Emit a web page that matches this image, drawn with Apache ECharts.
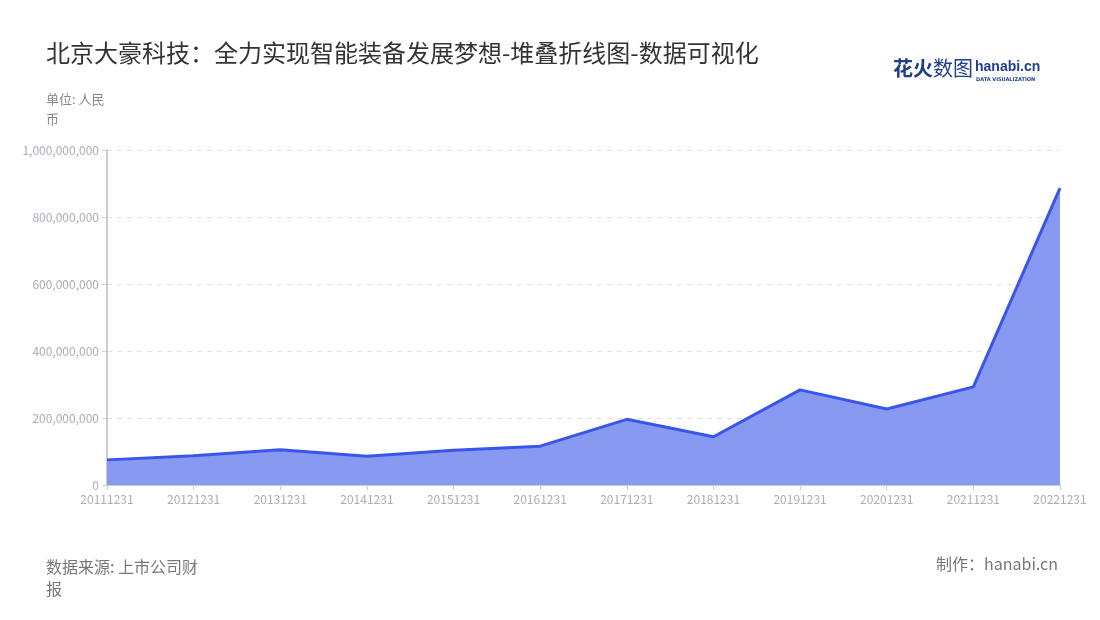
<!DOCTYPE html>
<html>
<head>
<meta charset="utf-8">
<script src="https://cdn.jsdelivr.net/npm/echarts@6/dist/echarts.min.js"></script>
<style>
  html, body {margin:0;padding:0;background:#fff;}
  #main {width:1100px;height:620px;}
</style>
</head>
<body>
<div id="main"></div>
<script>
  // 报告期
  var dates = ['20111231', '20121231', '20131231', '20141231', '20151231', '20161231',
               '20171231', '20181231', '20191231', '20201231', '20211231', '20221231'];
  // 数值（人民币）
  var values = [75000000, 87000000, 105000000, 86000000, 104000000, 116000000,
                196000000, 144000000, 284000000, 227000000, 293000000, 886000000];
  var yTicks = [0, 200000000, 400000000, 600000000, 800000000, 1000000000];

  var font = '"Noto Sans CJK SC", "Noto Sans", sans-serif';
  var chart = echarts.init(document.getElementById('main'));

  var option = {
    backgroundColor: '#fff',
    textStyle: {fontFamily: font},
    title: [{
      text: '北京大豪科技：全力实现智能装备发展梦想-堆叠折线图-数据可视化',
      left: 41, top: 36,
      textStyle: {fontSize: 24, fontWeight: 'normal', color: '#333', fontFamily: font}
    }, {
      text: '单位: 人民币',
      left: 41, top: 84,
      textStyle: {fontSize: 13, fontWeight: 'normal', color: '#888', width: 66, overflow: 'break', lineHeight: 20, fontFamily: font}
    }, {
      text: '数据来源: 上市公司财报',
      left: 41, top: 551,
      textStyle: {fontSize: 16, fontWeight: 'normal', color: '#777', width: 165, overflow: 'break', lineHeight: 22, fontFamily: font}
    }, {
      text: '制作：hanabi.cn',
      right: 37, top: 551,
      textStyle: {fontSize: 16, fontWeight: 'normal', color: '#777', fontFamily: font}
    }],
    graphic: [{
      type: 'group', left: 893, top: 58,
      children: [
        {type: 'text', x: 0, y: 0, style: {text: '花火', font: 'bold 20px ' + font, fill: '#1f3f8c'}},
        {type: 'text', x: 40, y: 0, style: {text: '数图', font: '20px ' + font, fill: '#1f3f8c'}},
        {type: 'text', x: 82, y: 2, style: {text: 'hanabi.cn', font: 'bold 14px "Liberation Sans Narrow", "Liberation Sans", sans-serif', fill: '#1f3f8c'}},
        {type: 'text', x: 83, y: 19, style: {text: 'DATA VISUALIZATION', font: 'bold 5px "DejaVu Sans", sans-serif', fill: '#1f3f8c'}}
      ]
    }],
    grid: {left: 107, right: 40, top: 150, bottom: 135},
    xAxis: {
      type: 'category',
      data: dates,
      boundaryGap: false,
      axisLine: {lineStyle: {color: '#ccc', width: 2}},
      axisTick: {show: true, alignWithLabel: true, lineStyle: {color: '#ccc'}},
      axisLabel: {color: '#a9adb8', fontSize: 12, margin: 8, interval: 0}
    },
    yAxis: {
      type: 'value',
      min: yTicks[0],
      max: yTicks[yTicks.length - 1],
      interval: yTicks[1] - yTicks[0],
      axisLine: {show: true, lineStyle: {color: '#ccc', width: 2}},
      axisTick: {show: true, lineStyle: {color: '#ccc'}},
      axisLabel: {
        color: '#a9adb8', fontSize: 12, margin: 8,
        formatter: function (v) { return v.toLocaleString('en-US'); }
      },
      splitLine: {lineStyle: {color: '#e0e0e0', type: [5, 5]}}
    },
    series: [{
      type: 'line',
      data: values,
      stack: 'total',
      symbol: 'none',
      lineStyle: {color: '#3a55ea', width: 3},
      itemStyle: {color: '#3a55ea'},
      areaStyle: {color: '#8899f2', opacity: 1}
    }]
  };
  chart.setOption(option);
</script>
</body>
</html>
